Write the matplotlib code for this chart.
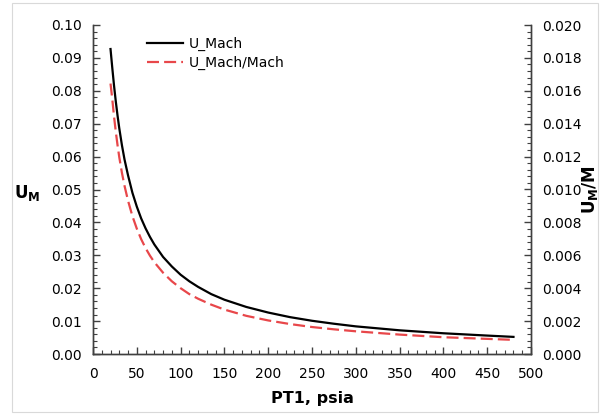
import matplotlib
matplotlib.use('Agg')
import matplotlib.pyplot as plt
from matplotlib.ticker import MultipleLocator, FormatStrFormatter
from matplotlib.patches import Rectangle

# PT1 (psia)
pt1 = [20, 22, 24, 26, 28, 30, 33, 36, 40, 45, 50, 55, 60, 65, 70, 80, 90, 100, 110, 120,
       135, 150, 175, 200, 225, 250, 275, 300, 350, 400, 450, 480]

# U_Mach (left axis)
u_mach = [0.0927, 0.0870, 0.0816, 0.0768, 0.0725, 0.0686, 0.0635, 0.0591, 0.0543, 0.0490,
          0.0448, 0.0412, 0.0382, 0.0356, 0.0333, 0.0295, 0.0266, 0.0241, 0.0221, 0.0204,
          0.0182, 0.0165, 0.0143, 0.0126, 0.0112, 0.0101, 0.0092, 0.0084, 0.0072, 0.0063,
          0.0056, 0.0052]

# U_Mach/Mach (right axis)
u_mach_rel = [0.01644, 0.01550, 0.01444, 0.01352, 0.01270, 0.01196, 0.01102, 0.01022, 0.00932,
              0.00838, 0.00762, 0.00698, 0.00644, 0.00598, 0.00558, 0.00494, 0.00442, 0.00400,
              0.00364, 0.00336, 0.00300, 0.00270, 0.00232, 0.00204, 0.00182, 0.00164, 0.00150,
              0.00138, 0.00118, 0.00102, 0.00092, 0.00086]

fig = plt.figure(figsize=(6.01, 4.15), dpi=100)
fig.subplots_adjust(left=93 / 601, right=531 / 601, top=1 - 25 / 415, bottom=1 - 354 / 415)
ax = fig.add_subplot(111)
ax2 = ax.twinx()

# light chart-area border
fig.patches.append(Rectangle((12 / 601, 3 / 415), 586 / 601, 409 / 415,
                             transform=fig.transFigure, fill=False,
                             edgecolor='#d9d9d9', linewidth=0.8))

l1, = ax.plot(pt1, u_mach, color='black', lw=1.6, label='U_Mach')
l2, = ax2.plot(pt1, u_mach_rel, color='#e8474a', lw=1.6, dashes=(5.4, 2.3), label='U_Mach/Mach')

ax.set_xlim(0, 500)
ax.set_ylim(0, 0.10)
ax2.set_ylim(0, 0.020)

ax.xaxis.set_major_locator(MultipleLocator(50))
ax.xaxis.set_minor_locator(MultipleLocator(10))
ax.yaxis.set_major_locator(MultipleLocator(0.01))
ax.yaxis.set_minor_locator(MultipleLocator(0.002))
ax.yaxis.set_major_formatter(FormatStrFormatter('%.2f'))
ax2.yaxis.set_major_locator(MultipleLocator(0.002))
ax2.yaxis.set_minor_locator(MultipleLocator(0.0004))
ax2.yaxis.set_major_formatter(FormatStrFormatter('%.3f'))

for a in (ax, ax2):
    a.spines['top'].set_visible(False)
    for s in a.spines.values():
        s.set_color('#404040')
        s.set_linewidth(1.0)
    a.tick_params(which='major', direction='in', length=5, width=1, color='#404040',
                  labelsize=10, pad=8)
    a.tick_params(which='minor', direction='in', length=3, width=0.8, color='#404040')
ax.tick_params(axis='x', which='major', pad=9)
ax.tick_params(axis='x', which='both', top=False)

ax.set_xlabel('PT1, psia', fontsize=11.5, fontweight='bold')
ax.xaxis.set_label_coords(0.5, -0.135)
ax.xaxis.label.set_va('center')

ax.set_ylabel(r'$\mathbf{U}_\mathbf{M}$', fontsize=12, rotation=0, ha='right', va='center')
ax.yaxis.set_label_coords(-0.12, 0.49)
ax2.set_ylabel(r'$\mathbf{U}_\mathbf{M}\mathbf{/M}$', fontsize=12, rotation=90,
               ha='center', va='center')
ax2.yaxis.set_label_coords(1.135, 0.5)

leg = ax.legend(handles=[l1, l2], loc='upper left', bbox_to_anchor=(0.11, 0.98),
                frameon=False, fontsize=10, handlelength=2.6, handletextpad=0.4,
                labelspacing=0.3, borderaxespad=0)

fig.savefig('out.png', dpi=100)
